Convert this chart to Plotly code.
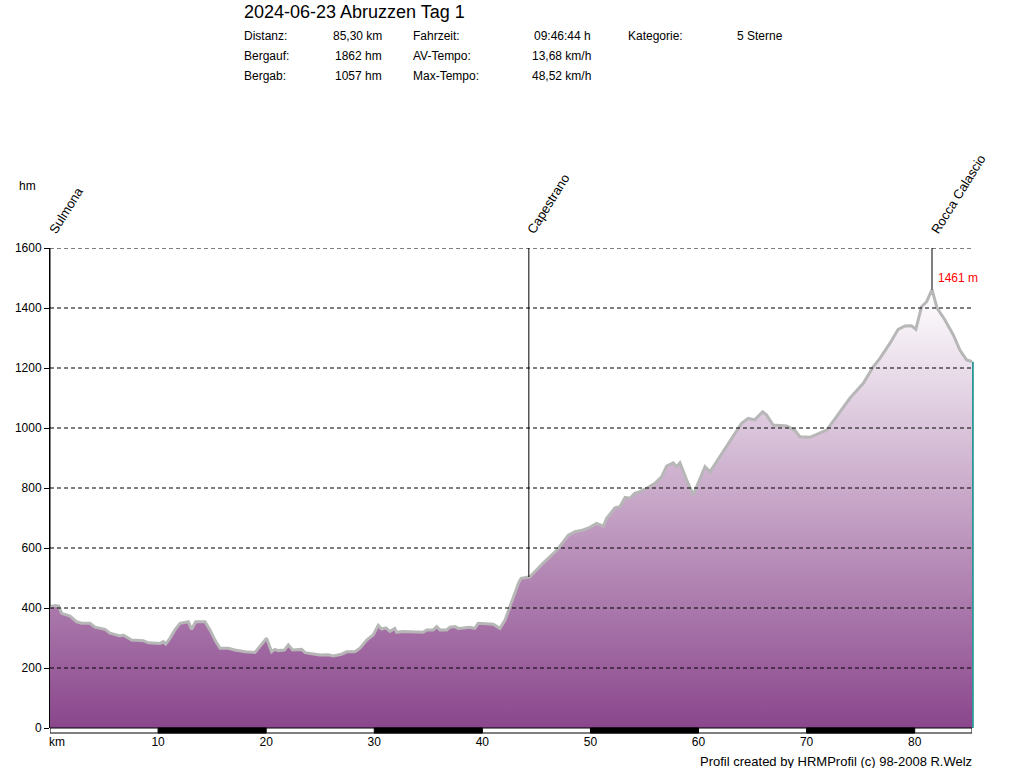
import numpy as np
import plotly.graph_objects as go

# ---------------- data ----------------
km = [0.0, 0.5, 0.8, 1.08, 1.85, 2.47, 2.93, 3.7, 4.16, 5.09, 5.55, 6.48, 6.78, 7.55, 8.63, 9.1,
      10.18, 10.48, 10.7, 11.1, 11.56, 12.03, 12.8, 13.1, 13.48, 14.34, 14.8, 15.26, 15.73, 16.5,
      17.1, 18.04, 18.96, 19.43, 20.04, 20.5, 20.8, 21.1, 21.7, 22.05, 22.45, 23.28, 23.6, 24.36,
      24.98, 25.75, 26.2, 26.98, 27.45, 28.2, 28.68, 29.3, 29.9, 30.37, 30.68, 31.08, 31.45, 31.9,
      32.07, 32.68, 33.6, 34.53, 34.85, 35.46, 35.77, 36.08, 36.7, 37.0, 37.47, 37.77, 38.23, 38.85,
      39.3, 39.62, 41.0, 41.63, 42.1, 42.55, 43.0, 43.4, 43.6, 44.4, 45.6, 46.9, 47.95, 48.57, 49.33,
      49.95, 50.57, 51.2, 51.5, 52.27, 52.73, 53.2, 53.65, 54.1, 54.58, 55.2, 55.97, 56.59, 57.05,
      57.66, 57.97, 58.28, 58.9, 59.5, 59.97, 60.6, 61.06, 61.98, 62.6, 63.2, 63.98, 64.6, 65.2,
      65.93, 66.3, 66.9, 68.15, 68.9, 69.38, 70.3, 71.07, 71.85, 72.77, 74.0, 75.24, 76.16, 76.78,
      77.7, 78.47, 79.1, 79.7, 80.1, 80.63, 81.1, 81.6, 82.08, 82.8, 83.57, 84.18, 84.8, 85.3]
elev = [405, 408, 406, 382, 373, 354, 349, 349, 336, 329, 316, 307, 310, 293, 291, 284,
        282, 288, 280, 299, 327, 349, 354, 329, 354, 354, 327, 293, 266, 266,
        260, 254, 252, 271, 299, 254, 262, 258, 260, 277, 260, 262, 251, 247,
        243, 244, 240, 246, 254, 254, 266, 293, 310, 342, 330, 334, 322, 332,
        319, 322, 321, 319, 327, 327, 338, 327, 327, 336, 338, 332, 333, 336,
        332, 349, 346, 332, 360, 404, 449, 488, 499, 504, 549, 593, 643, 654, 660,
        669, 682, 673, 699, 734, 738, 769, 766, 782, 788, 799, 816, 838, 873,
        884, 871, 884, 827, 777, 816, 871, 854, 904, 938, 971, 1016, 1032, 1027,
        1054, 1043, 1010, 1007, 993, 971, 969, 980, 993, 1038, 1099, 1149, 1204, 1232,
        1282, 1329, 1340, 1341, 1329, 1404, 1421, 1461, 1399, 1360, 1310, 1260, 1227, 1221]

title_text = "2024-06-23 Abruzzen Tag 1"
stat_labels_a = ["Distanz:", "Bergauf:", "Bergab:"]
stat_values_a = ["85,30 km", "1862 hm", "1057 hm"]
stat_labels_b = ["Fahrzeit:", "AV-Tempo:", "Max-Tempo:"]
stat_values_b = ["09:46:44 h", "13,68 km/h", "48,52 km/h"]
stat_labels_c = ["Kategorie:"]
stat_values_c = ["5 Sterne"]

waypoint_names = ["Sulmona", "Capestrano", "Rocca Calascio"]
waypoint_km = [0.0, 44.3, 81.6]
peak_label = "1461 m"
peak_km = 81.6
peak_elev = 1461

total_km = 85.3
y_ticks = [0, 200, 400, 600, 800, 1000, 1200, 1400, 1600]
x_ticks = [10, 20, 30, 40, 50, 60, 70, 80]
x_tick_labels = ["10", "20", "30", "40", "50", "60", "70", "80"]
bar_bounds = [0, 10, 20, 30, 40, 50, 60, 70, 80, 85.3]
footer_text = "Profil created by HRMProfil (c) 98-2008 R.Welz"

# ---------------- layout geometry ----------------
W, H = 1024, 768
L, R, T, B = 50, 52, 248, 40
PW, PH = W - L - R, H - T - B
FONT = "Liberation Sans, Arial, sans-serif"


def px(x):
    return (x - L) / PW


def py(y):
    return (H - B - y) / PH


fig = go.Figure()
fig.add_trace(go.Scatter(
    x=km, y=elev, mode="lines",
    line=dict(color="#b7b7b7", width=3),
    fill="tozeroy",
    fillgradient=dict(type="vertical", colorscale=[[0, "#8a468c"], [1, "#ffffff"]],
                      start=0, stop=max(elev)),
    hoverinfo="skip", showlegend=False,
))

shapes = []
# dashed grid above the fill
for v in y_ticks[1:]:
    shapes.append(dict(type="line", xref="paper", yref="y", x0=0, x1=1, y0=v, y1=v,
                       line=dict(color="black", width=1, dash="4px,3px"), layer="above"))
# waypoint marker lines
for wk in waypoint_km:
    top_e = float(np.interp(wk, km, elev))
    shapes.append(dict(type="line", xref="x", yref="y", x0=wk, x1=wk, y0=y_ticks[-1], y1=top_e,
                       line=dict(color="black", width=1), layer="above"))
# right-edge line
shapes.append(dict(type="line", xref="paper", yref="y", x0=1.001, x1=1.001, y0=0, y1=elev[-1],
                   line=dict(color="#008080", width=1.5), layer="above"))
# km bar
bar_h = -5 / PH
shapes.append(dict(type="rect", xref="x", yref="paper", x0=0, x1=total_km, y0=0, y1=bar_h,
                   fillcolor="white", line=dict(color="black", width=1), layer="above"))
for i in range(1, len(bar_bounds) - 1, 2):
    shapes.append(dict(type="rect", xref="x", yref="paper", x0=bar_bounds[i], x1=bar_bounds[i + 1],
                       y0=0, y1=bar_h, fillcolor="black", line=dict(color="black", width=1),
                       layer="above"))

anns = []


def text_ann(text, x, y, anchor="left", size=12, color="black"):
    anns.append(dict(text=text, xref="paper", yref="paper", x=px(x), y=py(y),
                     xanchor=anchor, yanchor="middle", showarrow=False,
                     font=dict(family=FONT, size=size, color=color)))


text_ann(title_text, 242, 12, size=18)
rows_y = [36, 56, 76]
for i, yy in enumerate(rows_y):
    text_ann(stat_labels_a[i], 242, yy)
    text_ann(stat_values_a[i], 384, yy, anchor="right")
    text_ann(stat_values_b[i], 593, yy, anchor="right")
    text_ann(stat_labels_b[i], 411, yy)
for i, lab in enumerate(stat_labels_c):
    text_ann(lab, 626, rows_y[i])
    text_ann(stat_values_c[i], 735, rows_y[i])

text_ann("hm", 27, 186, anchor="center")
text_ann(footer_text, 974, 761, anchor="right", size=13)

anns.append(dict(text="km", xref="x", yref="paper", x=0, y=py(742), xanchor="left",
                 yanchor="middle", xshift=-3, showarrow=False,
                 font=dict(family=FONT, size=12, color="black")))

for name, wk in zip(waypoint_names, waypoint_km):
    anns.append(dict(text=name, xref="x", yref="y", x=wk, y=y_ticks[-1], xanchor="left",
                     yanchor="bottom", textangle=-58, xshift=-7, yshift=9, showarrow=False,
                     font=dict(family=FONT, size=13, color="black")))

anns.append(dict(text=peak_label, xref="x", yref="y", x=peak_km, y=peak_elev, xanchor="left",
                 yanchor="middle", xshift=4, yshift=12, showarrow=False,
                 font=dict(family=FONT, size=12, color="#ff0000")))

fig.update_layout(
    width=W, height=H,
    margin=dict(l=L, r=R, t=T, b=B, pad=0),
    paper_bgcolor="white", plot_bgcolor="white",
    font=dict(family=FONT, size=12, color="black"),
    showlegend=False,
    shapes=shapes, annotations=anns,
    xaxis=dict(range=[0, total_km], tickvals=x_ticks, ticktext=x_tick_labels, showgrid=False,
               zeroline=False, showline=False, ticks="outside", ticklen=3,
               tickcolor="rgba(0,0,0,0)", tickfont=dict(family=FONT, size=12, color="black"),
               fixedrange=True),
    yaxis=dict(range=[0, 1600], tickvals=y_ticks, showgrid=False, zeroline=False,
               showline=True, linecolor="black", linewidth=1, ticks="outside", ticklen=5,
               tickcolor="black", tickfont=dict(family=FONT, size=12, color="black"),
               layer="above traces", fixedrange=True),
)

fig.write_html("out.html")
